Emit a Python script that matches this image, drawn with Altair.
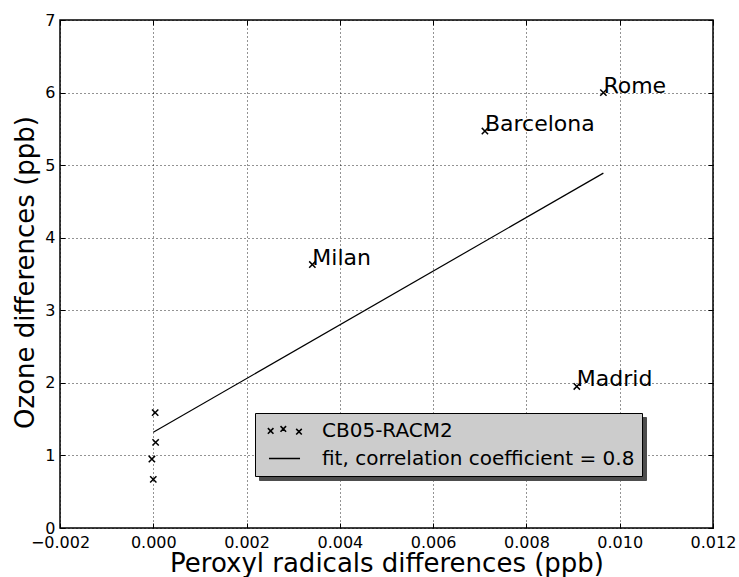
import altair as alt
import pandas as pd

# ---- data ----
pt_x = [0.00965, 0.00711, 0.00341, 0.00908, 0.00004, 0.00005, -0.00003, 0.0]
pt_y = [6.00, 5.47, 3.63, 1.95, 1.59, 1.18, 0.95, 0.67]
pt_names = ["Rome", "Barcelona", "Milan", "Madrid", "", "", "", ""]
fit_x = [0.0, 0.00965]
fit_y = [1.32, 4.89]
x_ticks = [-0.002, 0.0, 0.002, 0.004, 0.006, 0.008, 0.010, 0.012]
y_ticks = [0, 1, 2, 3, 4, 5, 6, 7]
legend_labels = ["CB05-RACM2", "fit, correlation coefficient = 0.8"]
x_title = "Peroxyl radicals differences (ppb)"
y_title = "Ozone differences (ppb)"

W, H = 653, 508
FONT = "DejaVu Sans"

pts = pd.DataFrame({"x": pt_x, "y": pt_y, "name": pt_names})
fit = pd.DataFrame({"x": fit_x, "y": fit_y})
leg = pd.DataFrame({"series": legend_labels, "series_s": legend_labels})

xs = alt.Scale(domain=[x_ticks[0], x_ticks[-1]], nice=False, zero=False)
ys = alt.Scale(domain=[y_ticks[0], y_ticks[-1]], nice=False, zero=False)

grid_kw = dict(grid=True, gridColor="black", gridDash=[1, 3], gridWidth=1, gridOpacity=0.85)

x_axis_main = alt.Axis(values=x_ticks, format=".3f", title=x_title, orient="bottom",
                       ticks=False, tickSize=0, domain=False, labelFontSize=16, labelPadding=6,
                       labelFlush=False, labelOverlap=False, labelColor="black",
                       titleFontSize=26, titleFontWeight="normal", titleColor="black",
                       titleY=43, titleBaseline="alphabetic", **grid_kw)
y_axis_main = alt.Axis(values=y_ticks, format="d", title=y_title, orient="left",
                       ticks=False, tickSize=0, domain=False, labelFontSize=16, labelPadding=5,
                       labelOverlap=False, labelColor="black",
                       titleFontSize=26, titleFontWeight="normal", titleColor="black",
                       titleX=-27, titleY=252, titleAngle=270, titleAlign="center",
                       titleBaseline="alphabetic", **grid_kw)

tick_kw = dict(labels=False, domain=False, grid=False, ticks=True, tickSize=5,
               tickColor="black", tickWidth=1, title=None)
x_axis_up = alt.Axis(values=x_ticks, orient="top", offset=-H, **tick_kw)
y_axis_in_l = alt.Axis(values=y_ticks, orient="right", offset=-W, **tick_kw)
x_axis_down = alt.Axis(values=x_ticks, orient="bottom", offset=-H, **tick_kw)
y_axis_in_r = alt.Axis(values=y_ticks, orient="left", offset=-W, **tick_kw)

xpath = "M-1,-1L1,1M-1,1L1,-1"

points = alt.Chart(pts).mark_point(shape=xpath, size=40, filled=False, color="black",
                                    strokeWidth=1.5, opacity=1).encode(
    x=alt.X("x:Q", scale=xs, axis=x_axis_main),
    y=alt.Y("y:Q", scale=ys, axis=y_axis_main),
)

line = alt.Chart(fit).mark_line(color="black", strokeWidth=1.2).encode(
    x=alt.X("x:Q", scale=xs, axis=x_axis_up),
    y=alt.Y("y:Q", scale=ys, axis=y_axis_in_l),
)

labels = alt.Chart(pts).transform_filter("datum.name != ''").mark_text(
    align="left", baseline="alphabetic", fontSize=22, color="black", font=FONT
).encode(
    x=alt.X("x:Q", scale=xs, axis=x_axis_down),
    y=alt.Y("y:Q", scale=ys, axis=y_axis_in_r),
    text="name:N",
)

# legend symbols (path units are 8 px with symbolSize 256)
path3 = ("M-0.58,-0.29L0.12,0.41M-0.58,0.41L0.12,-0.29"
         "M1.0,-0.54L1.7,0.16M1.0,0.16L1.7,-0.54"
         "M2.96,-0.2L3.66,0.5M2.96,0.5L3.66,-0.2")
pathline = "M-0.44,0L3.44,0"

leg_common = dict(title=None, orient="none", padding=7.5, symbolSize=256, labelFontSize=20,
                  labelOffset=39.5, rowPadding=8, labelFont=FONT, labelLimit=0)

legend_layer = alt.Chart(leg).transform_filter("false").mark_point(
    filled=False, strokeWidth=1.6, opacity=1
).encode(
    shape=alt.Shape("series:N", scale=alt.Scale(domain=legend_labels, range=[path3, pathline]),
                    legend=alt.Legend(legendX=195, legendY=393, fillColor="#cccccc",
                                      strokeColor="black", symbolStrokeColor="black",
                                      symbolFillColor="transparent", symbolStrokeWidth=1.6,
                                      symbolOpacity=1, labelColor="black", **leg_common)),
    color=alt.Color("series_s:N",
                    scale=alt.Scale(domain=legend_labels[::-1], range=["#4d4d4d", "#4d4d4d"]),
                    legend=alt.Legend(legendX=199, legendY=397, fillColor="#4d4d4d",
                                      strokeColor="#4d4d4d", symbolType=pathline,
                                      symbolOpacity=0, labelOpacity=0, **leg_common)),
)

chart = alt.layer(points, line, labels, legend_layer).resolve_axis(
    x="independent", y="independent"
).properties(
    width=W, height=H,
    autosize=alt.AutoSizeParams(type="none"),
    padding={"left": 60, "top": 20, "right": 26, "bottom": 49},
).configure(font=FONT).configure_view(stroke="black", strokeWidth=1.5)

chart.save("out.html", embed_options={"renderer": "svg", "actions": False})
